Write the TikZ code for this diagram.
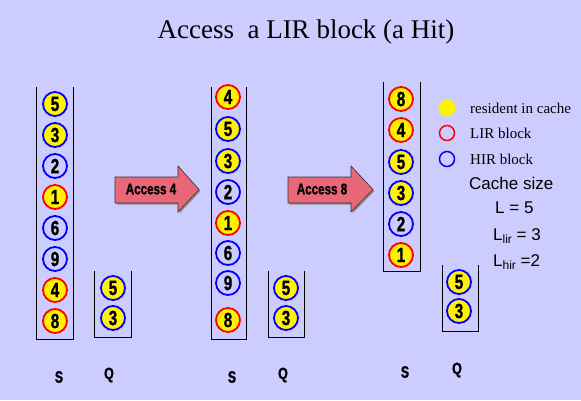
\documentclass[tikz,border=0pt]{standalone}
\usepackage{fontspec}
\setmainfont{Liberation Serif}
\newfontfamily\arialfont{Liberation Sans}
\newfontfamily\heavyfont[FakeBold=1.2]{Liberation Sans}
\definecolor{bgc}{HTML}{CCCCFF}
\definecolor{arrowc}{HTML}{E8687A}
\newcommand{\numtxt}[1]{\scalebox{0.75}[1]{\heavyfont\bfseries\fontsize{20.5}{20.5}\selectfont #1}}
\newcommand{\lbltxt}[1]{\scalebox{0.75}[1]{\heavyfont\bfseries\fontsize{16.5}{16.5}\selectfont #1}}
\newcommand{\acctxt}[1]{\scalebox{0.75}[1]{\heavyfont\bfseries\fontsize{15.5}{15.5}\selectfont #1}}
\begin{document}
\begin{tikzpicture}[x=1pt,y=-1pt,
  blk/.style={circle, minimum size=24pt, inner sep=0pt, line width=1.8pt},
  lir/.style={blk, draw=red, fill=yellow},
  hir/.style={blk, draw=blue, fill=yellow},
  hirn/.style={blk, draw=blue},
  stackline/.style={draw=black, line width=0.9pt},
  arrowshape/.style={fill=arrowc, draw=black!80, line width=0.6pt},
  arrowshadow/.style={fill=black!45},
  legtxt/.style={anchor=west, inner sep=0pt, font=\fontsize{15}{15}\selectfont},
  cachetxt/.style={anchor=west, inner sep=0pt, font=\arialfont\fontsize{17}{17}\selectfont}]
\fill[bgc] (0,0) rectangle (581,400);
\useasboundingbox (0,0) rectangle (581,400);

% title
\node[anchor=base, inner sep=0pt, font=\fontsize{27}{27}\selectfont] (title) at (306,38) {Access\ \ a LIR block (a Hit)};

% stack S1
\draw[stackline] (36,87) -- (36,339) -- (73,339) -- (73,87);
\node[hir] (s1a) at (55,104) {\numtxt{5}};
\node[hir] (s1b) at (55,135) {\numtxt{3}};
\node[hirn] (s1c) at (55,166) {\numtxt{2}};
\node[lir] (s1d) at (55,197) {\numtxt{1}};
\node[hirn] (s1e) at (55,228) {\numtxt{6}};
\node[hirn] (s1f) at (55,259) {\numtxt{9}};
\node[lir] (s1g) at (55,290) {\numtxt{4}};
\node[lir] (s1h) at (55,321) {\numtxt{8}};
% Q1
\draw[stackline] (94,271) -- (94,337) -- (131,337) -- (131,271);
\node[hir] (q1a) at (113,288) {\numtxt{5}};
\node[hir] (q1b) at (113,318) {\numtxt{3}};

% stack S2
\draw[stackline] (211,87) -- (211,339) -- (246,339) -- (246,87);
\node[lir] (s2a) at (228,97) {\numtxt{4}};
\node[hir] (s2b) at (228,129) {\numtxt{5}};
\node[hir] (s2c) at (228,161) {\numtxt{3}};
\node[hirn] (s2d) at (228,192) {\numtxt{2}};
\node[lir] (s2e) at (228,223) {\numtxt{1}};
\node[hirn] (s2f) at (228,253) {\numtxt{6}};
\node[hirn] (s2g) at (228,283) {\numtxt{9}};
\node[lir] (s2h) at (228,320) {\numtxt{8}};
% Q2
\draw[stackline] (268,271) -- (268,337) -- (304,337) -- (304,271);
\node[hir] (q2a) at (286,288) {\numtxt{5}};
\node[hir] (q2b) at (286,318) {\numtxt{3}};

% stack S3
\draw[stackline] (383,82) -- (383,271) -- (420,271) -- (420,82);
\node[lir] (s3a) at (401,99) {\numtxt{8}};
\node[lir] (s3b) at (401,130) {\numtxt{4}};
\node[hir] (s3c) at (401,162) {\numtxt{5}};
\node[hir] (s3d) at (401,193) {\numtxt{3}};
\node[hirn] (s3e) at (401,224) {\numtxt{2}};
\node[lir] (s3f) at (401,255) {\numtxt{1}};
% Q3
\draw[stackline] (442,265) -- (442,331) -- (478,331) -- (478,265);
\node[hir] (q3a) at (459,282) {\numtxt{5}};
\node[hir] (q3b) at (459,311) {\numtxt{3}};

% arrows
\begin{scope}[shift={(1.5,1.5)}]
\fill[arrowshadow] (115,177) -- (178,177) -- (178,166) -- (199,189.5) -- (178,212) -- (178,203) -- (115,203) -- cycle;
\fill[arrowshadow] (288,177) -- (351,177) -- (351,166) -- (373,189.5) -- (351,212) -- (351,203) -- (288,203) -- cycle;
\end{scope}
\draw[arrowshape] (115,177) -- (178,177) -- (178,166) -- (199,189.5) -- (178,212) -- (178,203) -- (115,203) -- cycle;
\draw[arrowshape] (288,177) -- (351,177) -- (351,166) -- (373,189.5) -- (351,212) -- (351,203) -- (288,203) -- cycle;
\node[inner sep=0pt] (acc4) at (151,189) {\acctxt{Access 4}};
\node[inner sep=0pt] (acc8) at (322,189) {\acctxt{Access 8}};

% bottom labels
\node[inner sep=0pt] (lS1) at (59,377) {\lbltxt{S}};
\node[inner sep=0pt] (lQ1) at (109,375) {\lbltxt{Q}};
\node[inner sep=0pt] (lS2) at (232,377) {\lbltxt{S}};
\node[inner sep=0pt] (lQ2) at (283,375) {\lbltxt{Q}};
\node[inner sep=0pt] (lS3) at (405,372) {\lbltxt{S}};
\node[inner sep=0pt] (lQ3) at (457,370) {\lbltxt{Q}};

% legend
\node[circle, fill=yellow, minimum size=17pt, inner sep=0pt] (legy) at (447,108) {};
\node[circle, draw=red, line width=1.5pt, minimum size=15pt, inner sep=0pt] (legr) at (447,133) {};
\node[circle, draw=blue, line width=1.5pt, minimum size=15pt, inner sep=0pt] (legb) at (447,159) {};
\node[legtxt] (tres) at (470,108) {resident in cache};
\node[legtxt] (tlir) at (470,133) {LIR block};
\node[legtxt] (thir) at (470,159) {HIR block};
\node[cachetxt] (tcs) at (469,183) {Cache size};
\node[cachetxt] (tL) at (495,208) {L = 5};
\node[cachetxt] (tLl) at (493,236) {L\raisebox{-0.35ex}{\fontsize{12}{12}\selectfont lir} = 3};
\node[cachetxt] (tLh) at (493,262) {L\raisebox{-0.35ex}{\fontsize{12}{12}\selectfont hir} =2};
\end{tikzpicture}
\end{document}
